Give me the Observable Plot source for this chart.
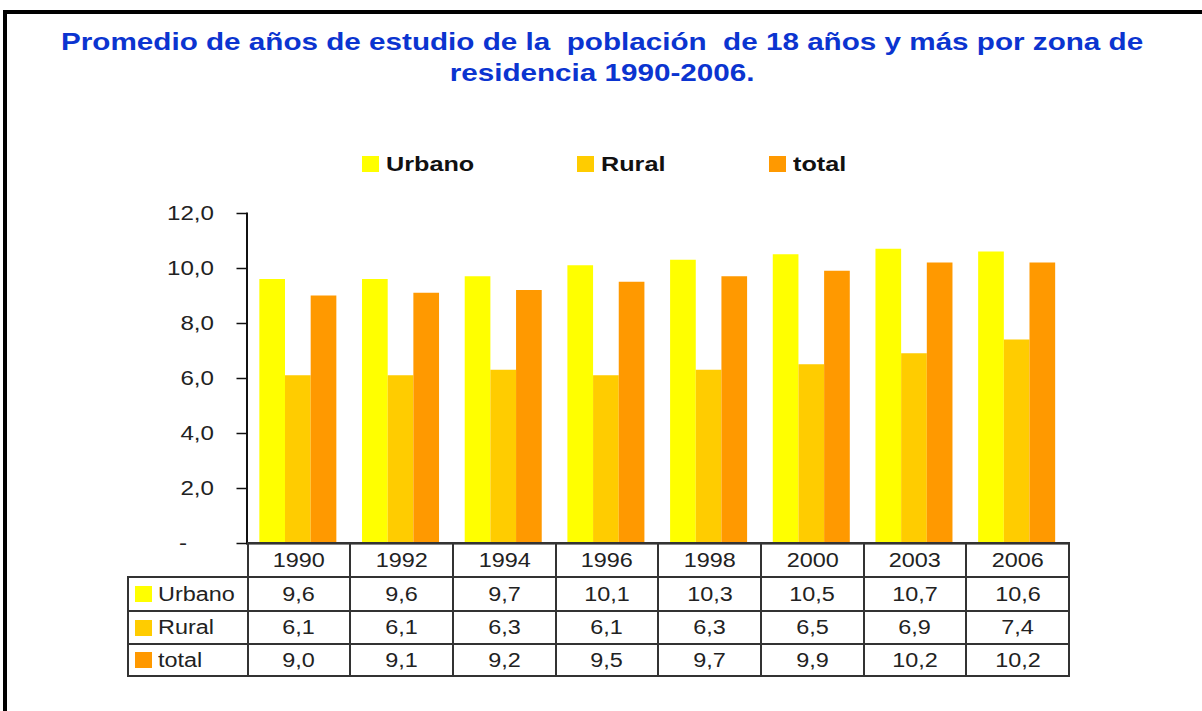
<!DOCTYPE html>
<html><head><meta charset="utf-8">
<script src="https://cdn.jsdelivr.net/npm/d3@7"></script>
<script src="https://cdn.jsdelivr.net/npm/@observablehq/plot@0.6"></script>
<style>
html,body{margin:0;padding:0;background:#fff;}
#wrap{position:relative;width:1202px;height:711px;overflow:hidden;font-family:"Liberation Sans",Arial,Helvetica,sans-serif;background:#fff;}
#frame{position:absolute;left:3px;top:10px;width:1300px;height:800px;border-left:4px solid #000;border-top:4px solid #000;box-sizing:border-box;}
#title{position:absolute;left:0;top:26px;width:1204px;text-align:center;}
#title span{display:inline-block;white-space:pre;font-weight:bold;font-size:24px;line-height:31px;color:#0b34d0;transform:scaleX(1.235);transform-origin:center;}
#legend{position:absolute;left:362px;top:152px;height:24px;display:flex;align-items:center;}
.litem{display:flex;align-items:center;}
.lsw{display:inline-block;width:17px;height:16px;margin-right:7px;}
.ltx{display:inline-block;font-weight:bold;font-size:21px;color:#111;transform:scaleX(1.2);transform-origin:left center;}
#plot{position:absolute;left:0;top:190px;}
#tbl{position:absolute;left:127px;top:542px;border-collapse:collapse;table-layout:fixed;}
#tbl td{border:2px solid #333;padding:0;text-align:center;vertical-align:middle;font-size:19.5px;color:#222;overflow:visible;white-space:nowrap;}
#tbl td.blank{border:none;}
#tbl td.lab{text-align:left;padding-left:6px;}
#tbl .v{display:inline-block;transform:scaleX(1.2);transform-origin:center;}
#tbl .lt{display:inline-block;transform:scaleX(1.2);transform-origin:left center;}
#tbl .sw{display:inline-block;width:17px;height:16px;margin-right:6px;vertical-align:middle;position:relative;top:-1px;}
</style>
</head><body>
<div id="wrap">
  <div id="frame"></div>
  <div id="title"><span id="titletext"></span></div>
  <div id="legend"></div>
  <div id="plot"></div>
  <table id="tbl"></table>
</div>
<script>
const titleLines = ["Promedio de años de estudio de la  población  de 18 años y más por zona de", "residencia 1990-2006."];
const years = ["1990","1992","1994","1996","1998","2000","2003","2006"];
const series = ["Urbano","Rural","total"];
const colors = ["#ffff00","#ffcc00","#ff9900"];
const urbano = [9.6,9.6,9.7,10.1,10.3,10.5,10.7,10.6];
const rural  = [6.1,6.1,6.3,6.1,6.3,6.5,6.9,7.4];
const total  = [9.0,9.1,9.2,9.5,9.7,9.9,10.2,10.2];
const yTicks = [0,2,4,6,8,10,12];

const valuesBySeries = [urbano, rural, total];
const fmt = v => v.toFixed(1).replace(".", ",");

document.getElementById("titletext").textContent = titleLines.join("\n");

// legend
const legend = document.getElementById("legend");
series.forEach((s, i) => {
  const it = document.createElement("div"); it.className = "litem";
  const sw = document.createElement("span"); sw.className = "lsw"; sw.style.background = colors[i];
  const tx = document.createElement("span"); tx.className = "ltx"; tx.textContent = s;
  it.appendChild(sw); it.appendChild(tx); legend.appendChild(it);
});
legend.querySelectorAll(".litem").forEach((it, i, all) => {
  if (i < all.length - 1) {
    const tx = it.querySelector(".ltx");
    tx.style.marginRight = (tx.offsetWidth * 0.2 + 103) + "px";
  }
});

// data rows
const rows = [];
years.forEach((y, j) => series.forEach((s, i) => rows.push({year: y, serie: s, value: valuesBySeries[i][j]})));

const chart = Plot.plot({
  width: 1202, height: 368,
  marginTop: 23, marginBottom: 15, marginLeft: 246.5, marginRight: 134,
  style: {fontFamily: "'Liberation Sans', Arial, sans-serif", color: "#222", background: "transparent", overflow: "visible"},
  fx: {domain: years, padding: 0, round: false, axis: null, label: null},
  x: {domain: series, paddingInner: 0, paddingOuter: 0.5, round: false, axis: null},
  y: {domain: [0, 12], axis: null},
  color: {domain: series, range: colors},
  marks: [
    Plot.barY(rows, {fx: "year", x: "serie", y: "value", fill: "serie", inset: 0}),
    Plot.ruleY([0], {stroke: "#111", strokeWidth: 2}),
    Plot.frame({anchor: "left", stroke: "#111", strokeWidth: 2, facetAnchor: "left"}),
    Plot.axisY({ticks: yTicks, tickSize: 10, tickPadding: 23, fontSize: 21, label: null, stroke: "#111", strokeWidth: 1.5,
      tickFormat: d => d === 0 ? "-\u2007\u2007" : fmt(d)})
  ]
});
document.getElementById("plot").appendChild(chart);
chart.querySelectorAll('g[aria-label="y-axis tick label"] text').forEach(t => {
  const tr = t.getAttribute("transform") || "";
  t.setAttribute("transform", `${tr} scale(1.15,1)`);
});

// table
const tbl = document.getElementById("tbl");
const colgroup = document.createElement("colgroup");
const c0 = document.createElement("col"); c0.style.width = "119.5px"; colgroup.appendChild(c0);
years.forEach(() => { const c = document.createElement("col"); c.style.width = "102.7px"; colgroup.appendChild(c); });
tbl.appendChild(colgroup);
const hr = document.createElement("tr"); hr.style.height = "34px";
const blank = document.createElement("td"); blank.className = "blank"; hr.appendChild(blank);
years.forEach(y => { const td = document.createElement("td"); td.innerHTML = `<span class="v">${y}</span>`; hr.appendChild(td); });
tbl.appendChild(hr);
const rh = ["34px","33px","32px"];
series.forEach((s, i) => {
  const tr = document.createElement("tr"); tr.style.height = rh[i];
  const lab = document.createElement("td"); lab.className = "lab";
  lab.innerHTML = `<span class="sw" style="background:${colors[i]}"></span><span class="lt">${s}</span>`;
  tr.appendChild(lab);
  valuesBySeries[i].forEach(v => { const td = document.createElement("td"); td.innerHTML = `<span class="v">${fmt(v)}</span>`; tr.appendChild(td); });
  tbl.appendChild(tr);
});
</script>
</body></html>
